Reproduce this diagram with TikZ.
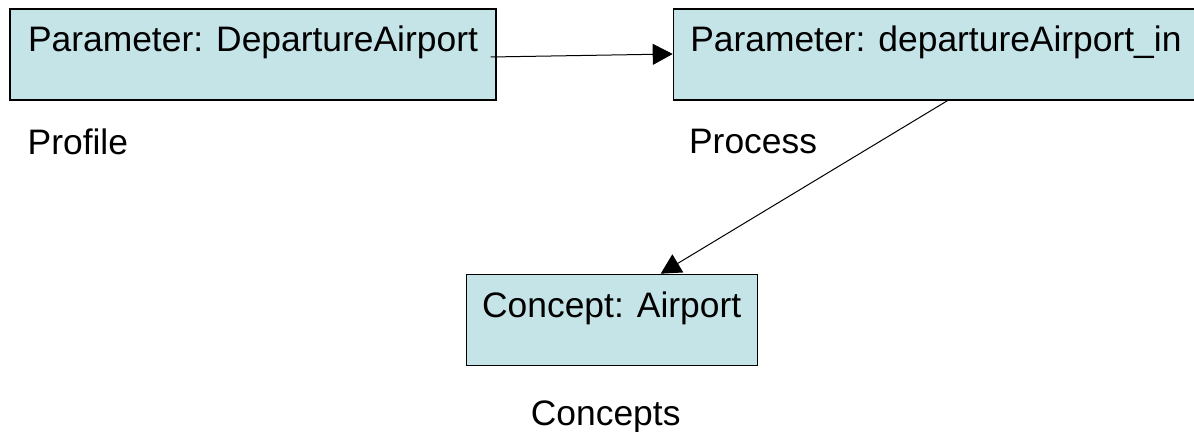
\documentclass[tikz,border=0pt]{standalone}
\usepackage{fontspec}
\setmainfont{Liberation Sans}
\definecolor{boxblue}{RGB}{197,228,232}
\usetikzlibrary{positioning}
\usetikzlibrary{arrows.meta}
\tikzset{
  parambox/.style={draw, line width=0.7pt, fill=boxblue, inner ysep=0pt,
    text height=21.5pt, text depth=24pt, font=\fontsize{17.7}{21}\selectfont},
  lbl/.style={inner sep=0pt, font=\fontsize{17.7}{21}\selectfont},
  flow/.style={-{Triangle[length=10pt,width=10.5pt]}, line width=0.5pt}
}

\begin{document}
\begin{tikzpicture}[x=0.5pt,y=-0.5pt]
  \useasboundingbox (0,0) rectangle (1194,432);

  \node [parambox, minimum width=243pt] (profparam) at (253,54.5) {Parameter: DepartureAirport};
  \node [parambox, minimum width=262.5pt, right=88pt of profparam] (procparam) {Parameter: departureAirport\_in};
  \node [parambox, minimum width=145.5pt, below=86.5pt of procparam.south west, xshift=-30.5pt] (concept) {Concept: Airport};

  % layer names
  \node [lbl, below right=14pt and 9pt of profparam.south west] (profile) {Profile};
  \node [lbl, below right=14pt and 8pt of procparam.south west] (process) {Process};
  \node [lbl, below=17pt of concept, xshift=-3pt] (concepts) {Concepts};

  % mappings
  \draw [flow] ([xshift=-3pt,yshift=-1.25pt]profparam.east) -- ([yshift=0.25pt]procparam.west);
  \draw [flow] ([xshift=5.75pt]procparam.south) -- ([xshift=24.5pt]concept.north);

\end{tikzpicture}
\end{document}
